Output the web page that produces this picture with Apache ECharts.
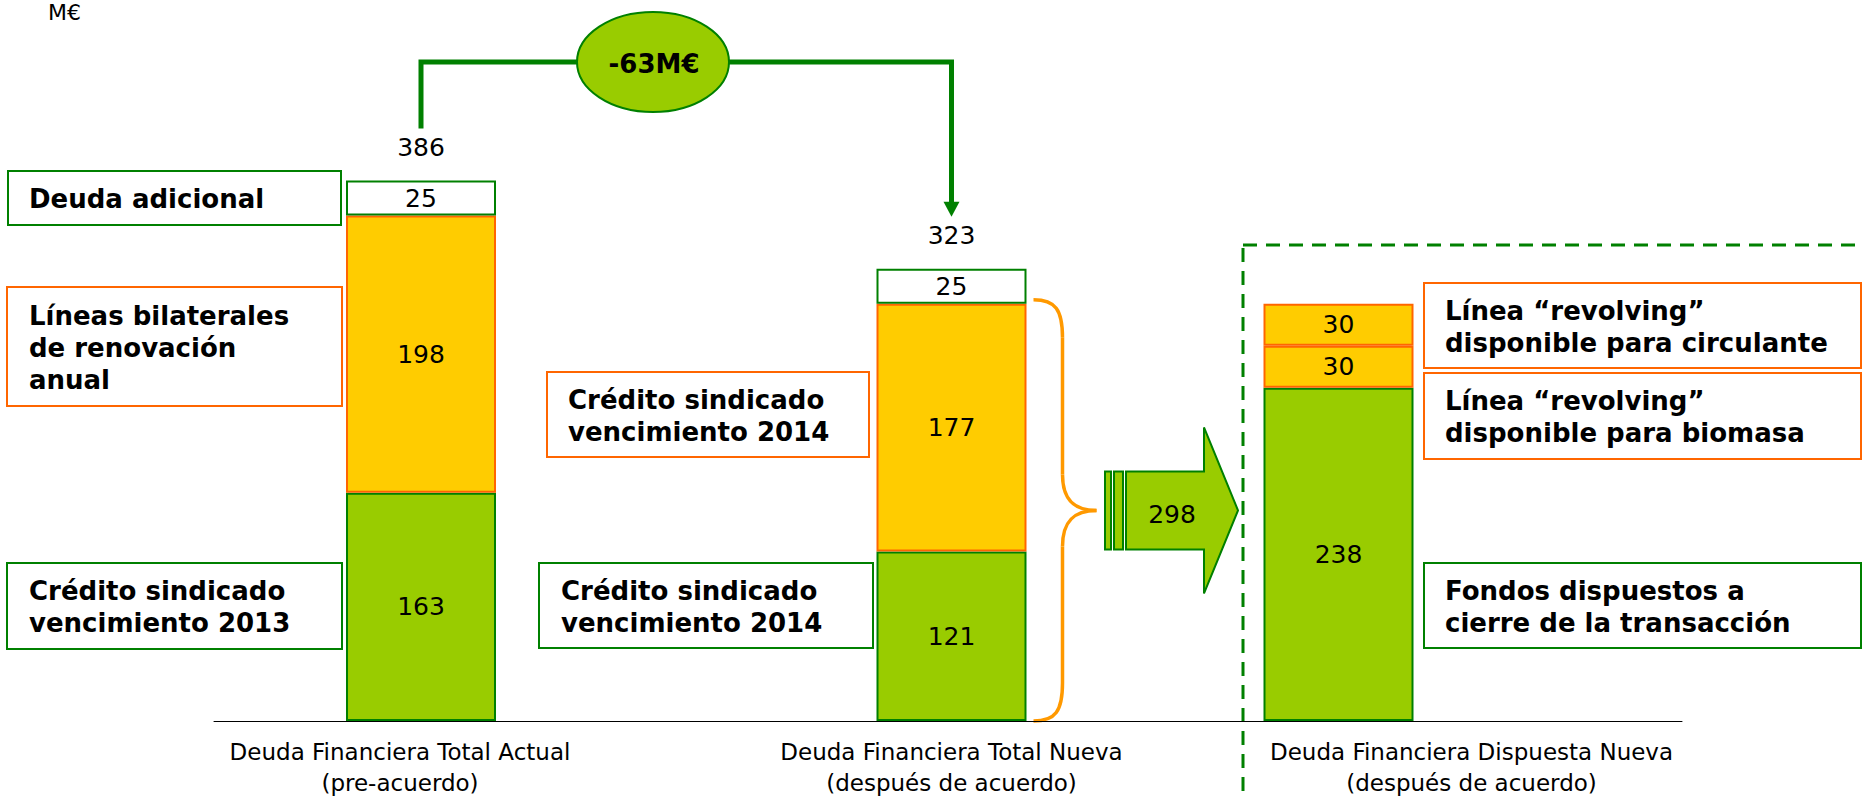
<!DOCTYPE html>
<html>
<head>
<meta charset="utf-8">
<title>Deuda financiera</title>
<script src="https://cdn.jsdelivr.net/npm/echarts@6/dist/echarts.min.js"></script>
<style>
  html, body { margin: 0; padding: 0; background: #fff; }
  #chart { width: 1863px; height: 798px; }
</style>
</head>
<body>
<div id="chart"></div>
<script>
// datos en M€
const categories = [
  'Deuda Financiera Total Actual\n(pre-acuerdo)',
  'Deuda Financiera Total Nueva\n(después de acuerdo)',
  'Deuda Financiera Dispuesta Nueva\n(después de acuerdo)'
]
const tramoBase = [163, 121, 238]
const tramoMedio = [198, 177, 30]
const tramoSuperior = [25, 25, 30]
const textosBase = ['Crédito sindicado\nvencimiento 2013', 'Crédito sindicado\nvencimiento 2014', 'Fondos dispuestos a\ncierre de la transacción']
const textosMedio = ['Líneas bilaterales\nde renovación\nanual', 'Crédito sindicado\nvencimiento 2014', 'Línea “revolving”\ndisponible para biomasa']
const textosSuperior = ['Deuda adicional', '', 'Línea “revolving”\ndisponible para circulante']
const unidad = 'M€'

const totales = tramoBase.map((v, i) => v + tramoMedio[i] + tramoSuperior[i])
const traspaso = tramoBase[1] + tramoMedio[1]
const variacion = totales[1] - totales[0]

// colores
const VERDE = '#99CC00'
const VERDE_OSCURO = '#008000'
const AMARILLO = '#FFCC00'
const NARANJA = '#FF6600'
const LLAVE = '#FF9900'
const FONT = 'DejaVu Sans'

// una rejilla por barra (las barras no están equiespaciadas)
const rejillas = [
  { left: 214, width: 414 },
  { left: 628, width: 647 },
  { left: 995, width: 687 }
]
const paddingEtiqueta = [[0, 42, 0, 0], [0, 0, 0, 0], [0, 0, 0, 266]]
const estiloSuperior = [
  { color: '#FFFFFF', borderColor: VERDE_OSCURO },
  { color: '#FFFFFF', borderColor: VERDE_OSCURO },
  { color: AMARILLO, borderColor: NARANJA }
]

const chart = echarts.init(document.getElementById('chart'), null, { renderer: 'svg' })

const numLabel = {
  show: true,
  position: 'inside',
  color: '#000',
  fontSize: 25,
  fontFamily: FONT
}

const series = []
categories.forEach((cat, i) => {
  const comun = {
    type: 'bar',
    xAxisIndex: i,
    yAxisIndex: i,
    stack: 'total' + i,
    barWidth: 150,
    label: numLabel,
    animation: false
  }
  series.push(Object.assign({}, comun, {
    name: textosBase[i],
    data: [tramoBase[i]],
    itemStyle: { color: VERDE, borderColor: VERDE_OSCURO, borderWidth: 2 }
  }))
  series.push(Object.assign({}, comun, {
    name: textosMedio[i],
    data: [tramoMedio[i]],
    itemStyle: { color: AMARILLO, borderColor: NARANJA, borderWidth: 2 }
  }))
  const sup = Object.assign({}, comun, {
    name: textosSuperior[i],
    data: [tramoSuperior[i]],
    itemStyle: Object.assign({ borderWidth: 2 }, estiloSuperior[i])
  })
  if (i < 2) {
    // total encima de la barra
    sup.markPoint = {
      symbol: 'rect',
      symbolSize: 1,
      itemStyle: { color: 'rgba(0,0,0,0)' },
      label: {
        show: true,
        position: 'inside',
        offset: [0, -33],
        color: '#000',
        fontSize: 25,
        fontFamily: FONT,
        formatter: String(totales[i])
      },
      data: [{ coord: [0, totales[i]] }]
    }
  }
  series.push(sup)
})

const option = {
  backgroundColor: '#fff',
  animation: false,
  grid: rejillas.map(r => ({
    left: r.left,
    width: r.width,
    top: 161,
    bottom: 77,
    containLabel: false,
    outerBoundsMode: 'none'
  })),
  xAxis: categories.map((cat, i) => ({
    type: 'category',
    gridIndex: i,
    data: [cat],
    axisTick: { show: false },
    axisLine: { lineStyle: { color: '#000', width: 1 } },
    axisLabel: {
      color: '#000',
      fontSize: 23,
      lineHeight: 31,
      fontFamily: FONT,
      margin: 15,
      padding: paddingEtiqueta[i]
    }
  })),
  yAxis: categories.map((cat, i) => ({
    type: 'value',
    gridIndex: i,
    min: 0,
    max: 400,
    show: false
  })),
  series: series
}

chart.setOption(option)

// anotaciones, colocadas a partir de las posiciones reales de las barras
const px = (i, v) => chart.convertToPixel({ seriesIndex: i * 3 }, [0, v])

function cuadro(x, y, w, h, color, texto, tx) {
  return [
    {
      type: 'rect',
      shape: { x: x, y: y, width: w, height: h },
      style: { fill: '#fff', stroke: color, lineWidth: 2 }
    },
    {
      type: 'text',
      x: tx,
      y: y + h / 2 + 1,
      style: {
        text: texto,
        fill: '#000',
        font: 'bold 26px "' + FONT + '"',
        align: 'left',
        verticalAlign: 'middle',
        lineHeight: 32
      }
    }
  ]
}

const top0 = px(0, totales[0])
const top1 = px(1, totales[1])
const lineaY = 62
const fin0 = top0[1] - 52
const fin1 = top1[1] - 52
const adicionalY = px(0, tramoBase[0] + tramoMedio[0] + tramoSuperior[0] / 2)[1]

// llave junto a la barra 2
const x0 = top1[0] + 82
const xV = x0 + 29
const xT = x0 + 63
const yT = px(1, traspaso)[1] - 4
const yB = px(1, 0)[1]
const yM = (yT + yB) / 2
const estiloLlave = { fill: 'none', stroke: LLAVE, lineWidth: 3.5 }
const curva = (x1, y1, cpx1, cpy1, cpx2, cpy2, x2, y2) => ({
  type: 'bezierCurve',
  shape: { x1, y1, cpx1, cpy1, cpx2, cpy2, x2, y2 },
  style: estiloLlave
})
const recta = (x1, y1, x2, y2) => ({
  type: 'line',
  shape: { x1, y1, x2, y2 },
  style: estiloLlave
})
const llave = [
  curva(x0, yT, x0 + 22, yT, xV, yT + 10, xV, yT + 38),
  recta(xV, yT + 38, xV, yM - 36),
  curva(xV, yM - 36, xV, yM - 10, xV + 12, yM, xT, yM),
  curva(xT, yM, xV + 12, yM, xV, yM + 10, xV, yM + 36),
  recta(xV, yM + 36, xV, yB - 38),
  curva(xV, yB - 38, xV, yB - 10, x0 + 22, yB, x0, yB)
]

const graphic = [
  {
    type: 'text',
    x: 48,
    y: 1,
    style: { text: unidad, fill: '#000', font: '22px "' + FONT + '"', align: 'left', verticalAlign: 'top' }
  },
  {
    type: 'rect',
    shape: { x: 1243, y: 245, width: 700, height: 700 },
    style: { fill: 'none', stroke: VERDE_OSCURO, lineWidth: 3, lineDash: [14, 9] }
  },
  {
    type: 'polyline',
    shape: { points: [[top0[0], fin0], [top0[0], lineaY], [top1[0], lineaY], [top1[0], fin1 - 13]] },
    style: { fill: 'none', stroke: VERDE_OSCURO, lineWidth: 5 }
  },
  {
    type: 'polygon',
    shape: { points: [[top1[0] - 8, fin1 - 15], [top1[0] + 8, fin1 - 15], [top1[0], fin1]] },
    style: { fill: VERDE_OSCURO }
  },
  {
    type: 'ellipse',
    shape: { cx: 653, cy: 62, rx: 76, ry: 50 },
    style: { fill: VERDE, stroke: VERDE_OSCURO, lineWidth: 2 }
  },
  {
    type: 'text',
    x: 654,
    y: 64,
    style: { text: variacion + unidad, fill: '#000', font: 'bold 26px "' + FONT + '"', align: 'center', verticalAlign: 'middle' }
  }
]
  .concat(llave)
  .concat([
    {
      type: 'rect',
      shape: { x: 1105, y: yM - 39, width: 6, height: 78 },
      style: { fill: VERDE, stroke: VERDE_OSCURO, lineWidth: 2 }
    },
    {
      type: 'rect',
      shape: { x: 1114, y: yM - 39, width: 9, height: 78 },
      style: { fill: VERDE, stroke: VERDE_OSCURO, lineWidth: 2 }
    },
    {
      type: 'polygon',
      shape: {
        points: [[1126, yM - 39], [1204, yM - 39], [1204, yM - 83], [1238, yM],
          [1204, yM + 83], [1204, yM + 39], [1126, yM + 39]]
      },
      style: { fill: VERDE, stroke: VERDE_OSCURO, lineWidth: 2 }
    },
    {
      type: 'text',
      x: 1172,
      y: yM + 4,
      style: { text: String(traspaso), fill: '#000', font: '25px "' + FONT + '"', align: 'center', verticalAlign: 'middle' }
    }
  ])
  .concat(cuadro(8, adicionalY - 27, 333, 54, VERDE_OSCURO, textosSuperior[0], 29))
  .concat(cuadro(7, 287, 335, 119, NARANJA, textosMedio[0], 29))
  .concat(cuadro(7, 563, 335, 86, VERDE_OSCURO, textosBase[0], 29))
  .concat(cuadro(547, 372, 322, 85, NARANJA, textosMedio[1], 568))
  .concat(cuadro(539, 563, 334, 85, VERDE_OSCURO, textosBase[1], 561))
  .concat(cuadro(1424, 283, 437, 85, NARANJA, textosSuperior[2], 1445))
  .concat(cuadro(1424, 373, 437, 86, NARANJA, textosMedio[2], 1445))
  .concat(cuadro(1424, 563, 437, 85, VERDE_OSCURO, textosBase[2], 1445))

chart.setOption({ graphic: graphic })
</script>
</body>
</html>
